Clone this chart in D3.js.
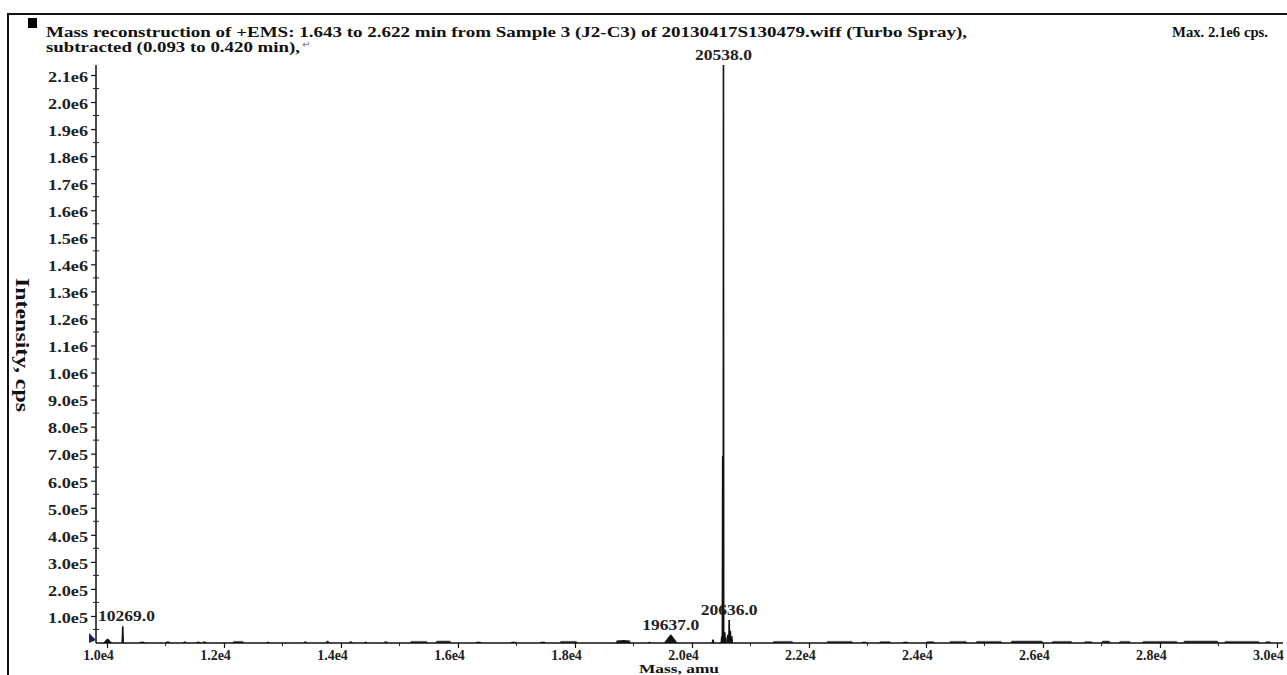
<!DOCTYPE html>
<html>
<head>
<meta charset="utf-8">
<script src="https://cdn.jsdelivr.net/npm/d3@7"></script>
<style>
  html, body { margin: 0; padding: 0; background: #fff; }
  svg { display: block; }
</style>
</head>
<body>
<svg id="chart" width="1287" height="675"></svg>
<script>
// ---------------- DATA ----------------
const titleLines = [
  "Mass reconstruction of +EMS: 1.643 to 2.622 min from Sample 3 (J2-C3) of 20130417S130479.wiff (Turbo Spray),",
  "subtracted (0.093 to 0.420 min),"
];
const maxLabel = "Max. 2.1e6 cps.";
const xAxisTitle = "Mass, amu";
const yAxisTitle = "Intensity, cps";

const xTickValues = [10000, 12000, 14000, 16000, 18000, 20000, 22000, 24000, 26000, 28000, 30000];
const xTickLabels = ["1.0e4", "1.2e4", "1.4e4", "1.6e4", "1.8e4", "2.0e4", "2.2e4", "2.4e4", "2.6e4", "2.8e4", "3.0e4"];
const yTickValues = [100000, 200000, 300000, 400000, 500000, 600000, 700000, 800000, 900000, 1000000,
                     1100000, 1200000, 1300000, 1400000, 1500000, 1600000, 1700000, 1800000, 1900000, 2000000, 2100000];
const yTickLabels = ["1.0e5", "2.0e5", "3.0e5", "4.0e5", "5.0e5", "6.0e5", "7.0e5", "8.0e5", "9.0e5", "1.0e6",
                     "1.1e6", "1.2e6", "1.3e6", "1.4e6", "1.5e6", "1.6e6", "1.7e6", "1.8e6", "1.9e6", "2.0e6", "2.1e6"];

// reconstructed peaks (mass, intensity, half width in amu)
const peakMass      = [10010, 10269, 18830, 19637, 20359, 20510, 20525, 20538, 20560, 20575, 20612, 20636, 20655, 20680];
const peakIntensity = [14000, 62000, 8000, 29000, 12000, 25000, 690000, 2137000, 40000, 20000, 30000, 85000, 45000, 25000];
const peakHalfWidth = [60, 8, 110, 100, 12, 10, 6, 4, 8, 8, 8, 6, 8, 10];

// labelled peaks
const labelMass = [10269, 19637, 20538, 20636];
const labelText = ["10269.0", "19637.0", "20538.0", "20636.0"];

// baseline noise bands (start mass, end mass, level)
const noiseStart = [10550, 11000, 11300, 11520, 11630, 12150, 12720, 13360, 13740, 14130, 14390, 14730, 15180, 15620, 16300, 16900, 17400, 17740, 18700, 19250, 21380, 22300, 22900, 23200, 23600, 24000, 24400, 24850, 25450, 26150, 26700, 27000, 27300, 27700, 28400, 29100, 29800];
const noiseEnd   = [10650, 11080, 11360, 11600, 11700, 12340, 12780, 13420, 13800, 14200, 14450, 14800, 15480, 15880, 16400, 17000, 17500, 18040, 18950, 19300, 21730, 22750, 23000, 23400, 23700, 24150, 24700, 25300, 26000, 26500, 26850, 27150, 27500, 28300, 29000, 29700, 29900];
const noiseLevel = [4000, 5000, 5000, 4000, 5000, 6000, 4000, 5000, 7000, 5000, 4000, 5000, 6000, 7000, 4000, 4000, 4000, 6000, 9000, 4000, 6000, 6000, 4000, 5000, 4000, 5000, 6000, 6000, 7000, 6000, 5000, 7000, 6000, 6000, 7000, 6000, 5000];

// ---------------- DRAWING ----------------
const FONT = "'Liberation Serif', 'Times New Roman', Times, serif";
const svg = d3.select("#chart");

const x = d3.scaleLinear().domain([9812, 30103]).range([96, 1283]);
const y = d3.scaleLinear().domain([0, 2137000]).range([643, 65]);

function stretch(sel, k) {
  sel.each(function () {
    const w = this.getComputedTextLength();
    d3.select(this).attr("textLength", w * k).attr("lengthAdjust", "spacingAndGlyphs");
  });
}

// frame
svg.append("line").attr("x1", 8).attr("x2", 1287).attr("y1", 14).attr("y2", 14)
  .attr("stroke", "#111").attr("stroke-width", 2);
svg.append("line").attr("x1", 8).attr("x2", 8).attr("y1", 13).attr("y2", 675)
  .attr("stroke", "#111").attr("stroke-width", 2);

// title block
svg.append("rect").attr("x", 28).attr("y", 18).attr("width", 9).attr("height", 10).attr("fill", "#000");
svg.append("text").attr("x", 46).attr("y", 37)
  .attr("font-family", FONT).attr("font-size", 15).attr("font-weight", "bold").attr("fill", "#111")
  .attr("textLength", 921).attr("lengthAdjust", "spacingAndGlyphs")
  .text(titleLines[0]);
svg.append("text").attr("x", 46).attr("y", 52)
  .attr("font-family", FONT).attr("font-size", 15).attr("font-weight", "bold").attr("fill", "#111")
  .attr("textLength", 254).attr("lengthAdjust", "spacingAndGlyphs")
  .text(titleLines[1]);
svg.append("text").attr("x", 302).attr("y", 48)
  .attr("font-family", "DejaVu Sans").attr("font-size", 10).attr("fill", "#777")
  .text("\u21B5");
svg.append("text").attr("x", 1268).attr("y", 37).attr("text-anchor", "end")
  .attr("font-family", FONT).attr("font-size", 15).attr("font-weight", "bold").attr("fill", "#111")
  .attr("textLength", 96).attr("lengthAdjust", "spacingAndGlyphs")
  .text(maxLabel);

// noise bands
const noise = noiseStart.map((s, i) => ({ s, e: noiseEnd[i], v: noiseLevel[i] }));
svg.append("g").selectAll("path").data(noise).join("path")
  .attr("d", d => d3.line()([[x(d.s), y(0)], [x(d.s) + 1, y(d.v)], [x(d.e) - 1, y(d.v)], [x(d.e), y(0)]]))
  .attr("fill", "#333").attr("stroke", "#333").attr("stroke-width", 0.6);

// peaks
const peaks = peakMass.map((m, i) => ({ m, v: peakIntensity[i], w: peakHalfWidth[i] }));
const area = d3.line().x(p => x(p[0])).y(p => y(p[1]));
svg.append("g").selectAll("path").data(peaks).join("path")
  .attr("d", d => area([[d.m - d.w, 0], [d.m, d.v], [d.m + d.w, 0]]))
  .attr("fill", "#111").attr("stroke", "#111").attr("stroke-width", 1.6).attr("stroke-linejoin", "bevel");

// axes
const yAxis = d3.axisLeft(y).tickValues(yTickValues).tickSize(5).tickPadding(4)
  .tickFormat((d, i) => yTickLabels[i]);
const gy = svg.append("g").attr("transform", "translate(96,0)").call(yAxis);
gy.select(".domain").attr("d", `M0,${y.range()[1]}V${y(0)}`).attr("stroke", "#111").attr("stroke-width", 1.5);
gy.selectAll(".tick line").attr("stroke", "#111").attr("stroke-width", 1.2);
gy.selectAll(".tick text").attr("font-family", FONT).attr("font-size", 14).attr("font-weight", "bold")
  .attr("fill", "#222").attr("dy", "0.45em").attr("x", -8);
stretch(gy.selectAll(".tick text"), 1.3);
// y minor ticks
const yMinor = yTickValues.map(v => v - 50000);
svg.append("g").selectAll("line").data(yMinor).join("line")
  .attr("x1", 93).attr("x2", 99).attr("y1", d => y(d)).attr("y2", d => y(d))
  .attr("stroke", "#222").attr("stroke-width", 1);

const xAxis = d3.axisBottom(x).tickValues(xTickValues).tickSize(5).tickPadding(2)
  .tickFormat((d, i) => xTickLabels[i]);
const gx = svg.append("g").attr("transform", `translate(0,${y(0)})`).call(xAxis);
gx.select(".domain").attr("d", `M${x.range()[0]},0H${x.range()[1]}`).attr("stroke", "#111").attr("stroke-width", 1.6);
gx.selectAll(".tick line").attr("stroke", "#111").attr("stroke-width", 1.2);
gx.selectAll(".tick text").attr("font-family", FONT).attr("font-size", 14).attr("font-weight", "bold")
  .attr("fill", "#222").attr("dx", -9);
// x minor ticks
const xMinor = xTickValues.slice(0, -1).map(v => v + 1000);
svg.append("g").selectAll("line").data(xMinor).join("line")
  .attr("x1", d => x(d)).attr("x2", d => x(d)).attr("y1", y(0)).attr("y2", y(0) + 3)
  .attr("stroke", "#222").attr("stroke-width", 1);

// origin marker (triangle)
svg.append("path")
  .attr("d", d3.line()([[x.range()[0] - 7, y(0) - 10], [x.range()[0], y(0) - 3], [x.range()[0] - 7, y(0)]]) + "Z")
  .attr("fill", "#1c1f6e");

// peak labels
const lab = svg.append("g").selectAll("text").data(labelMass).join("text")
  .attr("font-family", FONT).attr("font-size", 14).attr("font-weight", "bold").attr("fill", "#222")
  .attr("text-anchor", "middle")
  .attr("y", m => y(peakIntensity[peakMass.indexOf(m)]) - 5)
  .text((m, i) => labelText[i]);
stretch(lab, 1.25);
lab.attr("x", function (m) {
  const w = +this.getAttribute("textLength");
  return Math.max(x(m), x.range()[0] + w / 2 + 2);
});

// axis titles
svg.append("text").attr("transform", "translate(16,345) rotate(90)")
  .attr("text-anchor", "middle").attr("font-family", FONT).attr("font-size", 19).attr("font-weight", "bold")
  .attr("fill", "#111").attr("textLength", 134).attr("lengthAdjust", "spacingAndGlyphs")
  .text(yAxisTitle);
svg.append("text").attr("x", 679).attr("y", 673).attr("text-anchor", "middle")
  .attr("font-family", FONT).attr("font-size", 13).attr("font-weight", "bold").attr("fill", "#111")
  .attr("textLength", 80).attr("lengthAdjust", "spacingAndGlyphs")
  .text(xAxisTitle);
</script>
</body>
</html>
